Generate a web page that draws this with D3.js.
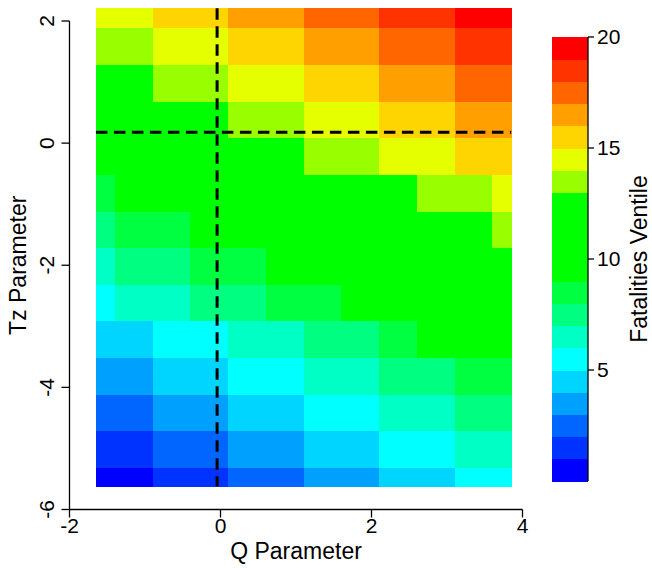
<!DOCTYPE html>
<html lang="en">
<head>
<meta charset="UTF-8">
<title>Fatalities Ventile heatmap</title>
<script src="https://d3js.org/d3.v7.min.js"></script>
<style>
  body { margin: 0; background: #fff; }
  svg text { font-family: "Liberation Sans", Arial, sans-serif; fill: #000; }
</style>
</head>
<body>
<div id="chart"></div>
<script>
// cell edges of the grid (Q across, Tz from top to bottom)
var qEdges = [-1.65, -1.4, -0.9, -0.4, 0.1, 0.6, 1.1, 1.6, 2.1, 2.6, 3.1, 3.6, 3.85];
var tzEdges = [2.21, 1.88, 1.28, 0.68, 0.08, -0.52, -1.12, -1.72, -2.32, -2.92, -3.52, -4.12, -4.72, -5.32, -5.62];

// ventile of each cell, one row per Tz band (top row first)
var ventiles = [
  [15, 15, 16, 16, 17, 17, 18, 18, 19, 19, 20, 20],
  [14, 14, 15, 15, 16, 16, 17, 17, 18, 18, 19, 19],
  [13, 13, 14, 14, 15, 15, 16, 16, 17, 17, 18, 18],
  [13, 13, 13, 13, 14, 14, 15, 15, 16, 16, 17, 17],
  [12, 12, 12, 13, 13, 13, 14, 14, 15, 15, 16, 16],
  [9, 11, 11, 12, 12, 12, 12, 13, 13, 14, 14, 15],
  [8, 9, 9, 11, 11, 11, 12, 12, 12, 13, 13, 14],
  [7, 8, 8, 9, 9, 10, 11, 11, 12, 12, 12, 13],
  [6, 7, 7, 8, 8, 9, 9, 10, 11, 11, 12, 12],
  [5, 5, 6, 6, 7, 7, 8, 8, 9, 10, 10, 11],
  [4, 4, 5, 5, 6, 6, 7, 7, 8, 8, 9, 9],
  [3, 3, 4, 4, 5, 5, 6, 6, 7, 7, 8, 8],
  [2, 2, 3, 3, 4, 4, 5, 5, 6, 6, 7, 7],
  [1, 1, 2, 2, 3, 3, 4, 4, 5, 5, 6, 6]
];

// one colour per ventile, 1..20
var palette = ["#0000FF", "#0033FF", "#0066FF", "#00A0FF", "#00D5FF",
               "#00FFFF", "#00FFC4", "#00FF80", "#00FF40", "#00FF00",
               "#00FF00", "#00FF00", "#00FF00", "#99FF00", "#E6FF00",
               "#FFD500", "#FFA000", "#FF6600", "#FF3300", "#FF0000"];

var xTicks = [-2, 0, 2, 4];
var yTicks = [-6, -4, -2, 0, 2];
var barTicks = [5, 10, 15, 20];
var cutQ = -0.045;   // vertical dashed line
var cutTz = 0.18;    // horizontal dashed line

var W = 652, H = 568;
var svg = d3.select("#chart").append("svg")
    .attr("width", W)
    .attr("height", H);

var x = d3.scaleLinear().domain([-2, 4]).range([69.5, 522.5]);
var y = d3.scaleLinear().domain([-6, 2]).range([509.5, 21]);
var color = d3.scaleQuantize().domain([0, 20]).range(palette);

// flatten the matrix into cells
var cells = [];
ventiles.forEach(function(row, i) {
    row.forEach(function(v, j) {
        cells.push({ q0: qEdges[j], q1: qEdges[j + 1], t0: tzEdges[i], t1: tzEdges[i + 1], v: v });
    });
});

svg.append("g")
    .selectAll("rect")
    .data(cells)
    .enter()
    .append("rect")
    .attr("x", function(d) { return x(d.q0); })
    .attr("y", function(d) { return y(d.t0); })
    .attr("width", function(d) { return x(d.q1) - x(d.q0) + 0.5; })
    .attr("height", function(d) { return y(d.t1) - y(d.t0) + 0.5; })
    .attr("fill", function(d) { return color(d.v - 0.5); })
    .attr("shape-rendering", "crispEdges");

// dashed guide lines
svg.append("line")
    .attr("x1", x(cutQ)).attr("x2", x(cutQ))
    .attr("y1", y(tzEdges[0])).attr("y2", y(tzEdges[tzEdges.length - 1]))
    .attr("stroke", "#000").attr("stroke-width", 3)
    .attr("stroke-dasharray", "11.5,6.5");
svg.append("line")
    .attr("x1", x(qEdges[0])).attr("x2", x(qEdges[qEdges.length - 1]))
    .attr("y1", y(cutTz)).attr("y2", y(cutTz))
    .attr("stroke", "#000").attr("stroke-width", 3)
    .attr("stroke-dasharray", "11.5,6.5");

// axes, R style: tick labels drawn by hand
var fs = 21, fsLab = 23;
var xAxis = svg.append("g").attr("transform", "translate(0," + 509.5 + ")");
xAxis.append("line")
    .attr("x1", x(-2)).attr("x2", x(4))
    .attr("stroke", "#000").attr("stroke-width", 1.3);
xAxis.selectAll(".tk").data(xTicks).enter().append("line")
    .attr("x1", d => x(d)).attr("x2", d => x(d))
    .attr("y1", 0).attr("y2", 8)
    .attr("stroke", "#000").attr("stroke-width", 1.3);
xAxis.selectAll("text").data(xTicks).enter().append("text")
    .attr("x", d => x(d)).attr("y", 23)
    .attr("text-anchor", "middle")
    .style("font-size", fs + "px")
    .text(d => d);

var yAxis = svg.append("g").attr("transform", "translate(" + 69.5 + ",0)");
yAxis.append("line")
    .attr("y1", y(-6)).attr("y2", y(2))
    .attr("stroke", "#000").attr("stroke-width", 1.3);
yAxis.selectAll(".tk").data(yTicks).enter().append("line")
    .attr("y1", d => y(d)).attr("y2", d => y(d))
    .attr("x1", 0).attr("x2", -8)
    .attr("stroke", "#000").attr("stroke-width", 1.3);
yAxis.selectAll("text").data(yTicks).enter().append("text")
    .attr("transform", d => "translate(-16," + y(d) + ") rotate(-90)")
    .attr("text-anchor", "middle")
    .style("font-size", fs + "px")
    .text(d => d);

svg.append("text")
    .attr("x", (x(-2) + x(4)) / 2).attr("y", 559)
    .attr("text-anchor", "middle")
    .style("font-size", fsLab + "px")
    .text("Q Parameter");
svg.append("text")
    .attr("transform", "translate(26," + (y(-6) + y(2)) / 2 + ") rotate(-90)")
    .attr("text-anchor", "middle")
    .style("font-size", fsLab + "px")
    .text("Tz Parameter");

// colour bar
var bar = d3.scaleLinear().domain([0, 20]).range([481, 37]);
var bands = d3.range(20);
svg.append("g")
    .selectAll("rect")
    .data(bands)
    .enter()
    .append("rect")
    .attr("x", 552)
    .attr("y", d => bar(d + 1))
    .attr("width", 36)
    .attr("height", d => bar(d) - bar(d + 1) + 0.5)
    .attr("fill", d => palette[d])
    .attr("shape-rendering", "crispEdges");

var barAxis = svg.append("g").attr("transform", "translate(588,0)");
barAxis.append("line")
    .attr("y1", bar(0)).attr("y2", bar(20))
    .attr("stroke", "#000").attr("stroke-width", 1.3);
barAxis.selectAll(".tk").data(barTicks).enter().append("line")
    .attr("y1", d => bar(d)).attr("y2", d => bar(d))
    .attr("x1", 0).attr("x2", 6)
    .attr("stroke", "#000").attr("stroke-width", 1.3);
barAxis.selectAll("text").data(barTicks).enter().append("text")
    .attr("x", 9).attr("y", d => bar(d))
    .attr("dy", "0.35em")
    .style("font-size", fs + "px")
    .text(d => d);

svg.append("text")
    .attr("transform", "translate(647," + (bar(0) + bar(20)) / 2 + ") rotate(-90)")
    .attr("text-anchor", "middle")
    .style("font-size", fsLab + "px")
    .text("Fatalities Ventile");
</script>
</body>
</html>
